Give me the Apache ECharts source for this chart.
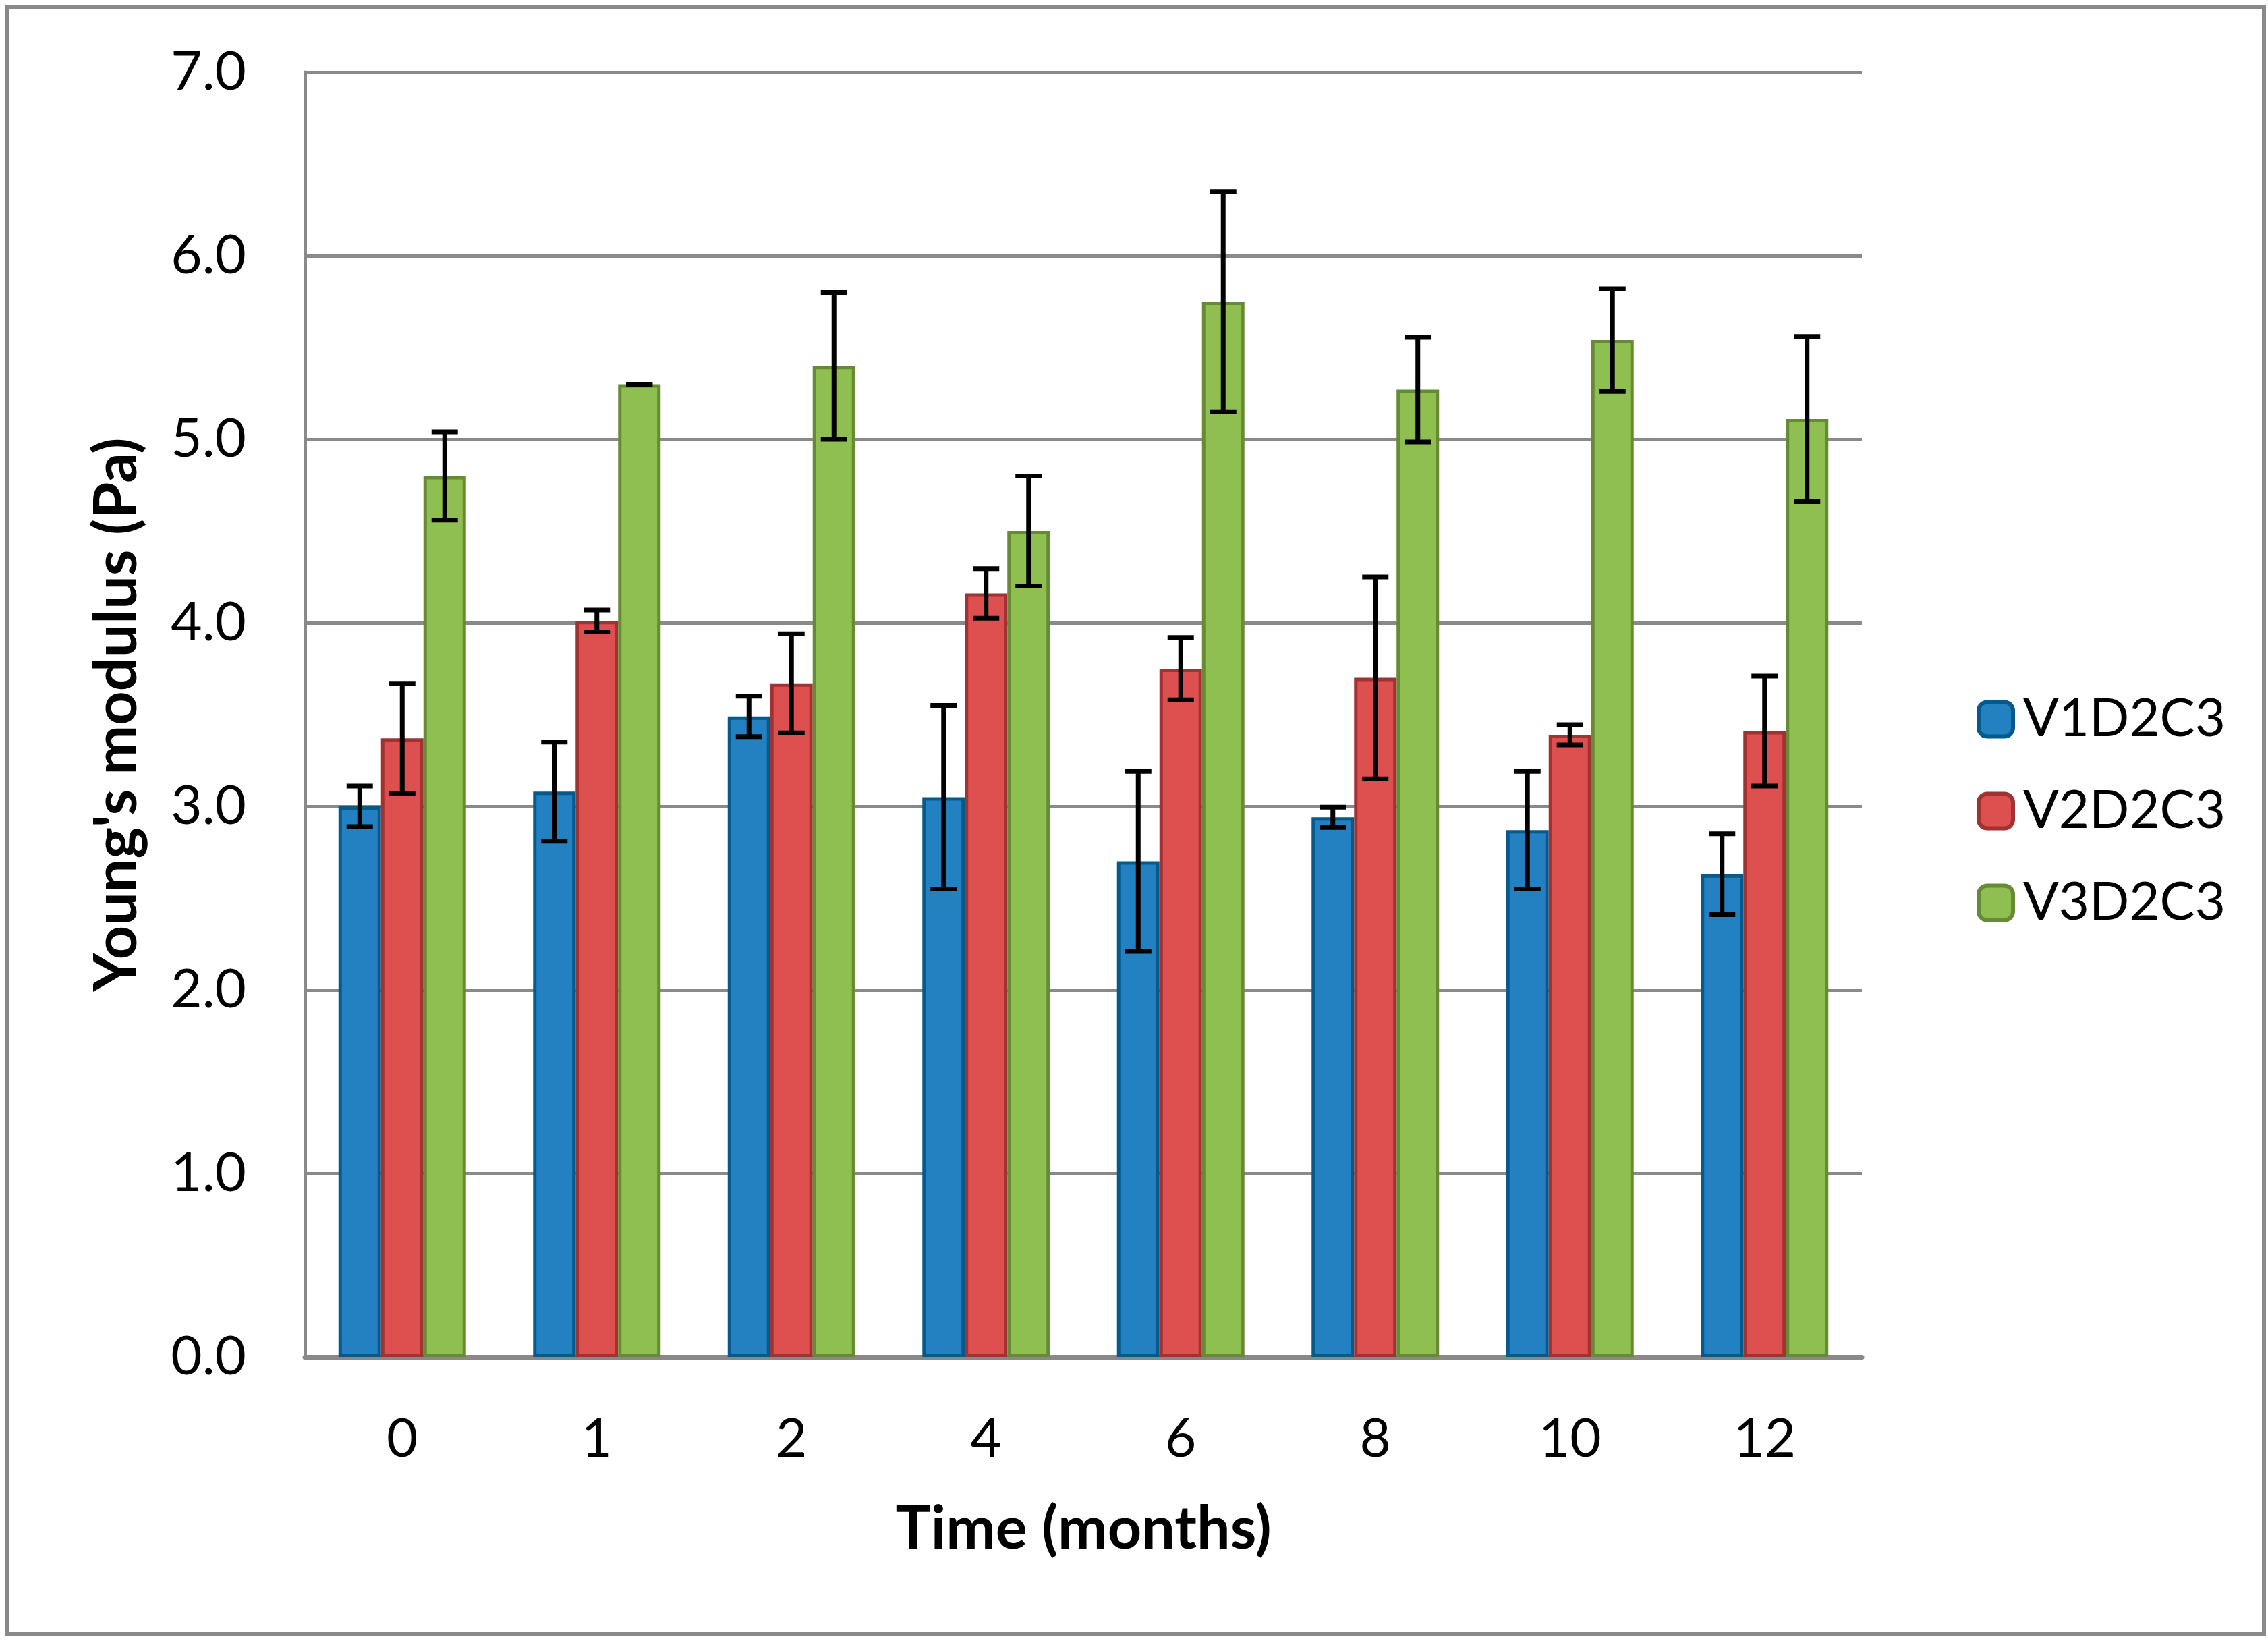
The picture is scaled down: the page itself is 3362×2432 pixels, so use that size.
<!DOCTYPE html>
<html>
<head>
<meta charset="utf-8">
<script src="https://cdn.jsdelivr.net/npm/echarts@6/dist/echarts.min.js"></script>
<style>
html,body{margin:0;padding:0;background:#fff;}
#chart{width:3362px;height:2432px;}
</style>
</head>
<body>
<div id="chart"></div>
<script>
// ---- data ----
const categories = ['0', '1', '2', '4', '6', '8', '10', '12'];
const seriesNames = ['V1D2C3', 'V2D2C3', 'V3D2C3'];
const v1Mean = [3.00, 3.08, 3.49, 3.05, 2.70, 2.94, 2.87, 2.63];
const v1Err  = [0.11, 0.27, 0.11, 0.50, 0.49, 0.055, 0.32, 0.22];
const v2Mean = [3.37, 4.01, 3.67, 4.16, 3.75, 3.70, 3.39, 3.41];
const v2Err  = [0.30, 0.06, 0.27, 0.135, 0.17, 0.55, 0.055, 0.30];
const v3Mean = [4.80, 5.30, 5.40, 4.50, 5.75, 5.27, 5.54, 5.11];
const v3Err  = [0.24, 0.00, 0.40, 0.30, 0.60, 0.285, 0.28, 0.45];
const yTicks = [0, 1, 2, 3, 4, 5, 6, 7];

// ---- styles ----
const fills = ['#2481c1', '#de4f4f', '#8fbe51'];
const borders = ['#055a8b', '#a03232', '#678a34'];
const FONT = 'Lato';
const GAP = 0.345;

const means = [v1Mean, v2Mean, v3Mean];
const errs = [v1Err, v2Err, v3Err];

const chart = echarts.init(document.getElementById('chart'), null, {renderer: 'canvas'});

const barSeries = seriesNames.map((name, i) => ({
  name: name,
  type: 'bar',
  data: means[i],
  barGap: '0%',
  barCategoryGap: (GAP * 100) + '%',
  itemStyle: {color: fills[i], borderColor: borders[i], borderWidth: 5},
  emphasis: {disabled: true},
  z: 2
}));

const errSeries = seriesNames.map((name, i) => ({
  type: 'custom',
  name: name + ' err',
  z: 10,
  silent: true,
  data: means[i].map((m, k) => [k, m - errs[i][k], m + errs[i][k]]),
  renderItem: function (params, api) {
    const k = api.value(0);
    const lo = api.value(1), hi = api.value(2);
    const pHi = api.coord([k, hi]);
    const pLo = api.coord([k, lo]);
    const catW = api.size([1, 0])[0];
    const bw = catW * (1 - GAP) / 3;
    const cx = pHi[0] + (i - 1) * bw;
    const half = 19.5;
    const style = {stroke: '#000', lineWidth: 7};
    return {
      type: 'group',
      children: [
        {type: 'line', shape: {x1: cx, y1: pHi[1], x2: cx, y2: pLo[1]}, style: style},
        {type: 'line', shape: {x1: cx - half, y1: pHi[1], x2: cx + half, y2: pHi[1]}, style: style},
        {type: 'line', shape: {x1: cx - half, y1: pLo[1], x2: cx + half, y2: pLo[1]}, style: style}
      ]
    };
  }
}));

const option = {
  backgroundColor: '#fff',
  animation: false,
  textStyle: {fontFamily: FONT, color: '#000'},
  graphic: [{
    type: 'rect',
    shape: {x: 10, y: 10, width: 3346, height: 2412},
    style: {fill: 'none', stroke: '#898989', lineWidth: 6},
    silent: true,
    z: 100
  }],
  grid: {left: 452, right: 602, top: 107, bottom: 421, containLabel: false},
  legend: {
    orient: 'vertical',
    left: 2925,
    top: 1022,
    itemWidth: 51,
    itemHeight: 51,
    itemGap: 58,
    icon: 'roundRect',
    selectedMode: false,
    data: seriesNames.map((n, i) => ({
      name: n,
      itemStyle: {color: fills[i], borderColor: borders[i], borderWidth: 6}
    })),
    textStyle: {fontFamily: FONT, fontSize: 78, color: '#000', padding: [0, 0, 0, 10]}
  },
  xAxis: {
    type: 'category',
    data: categories,
    name: 'Time (months)',
    nameLocation: 'middle',
    nameGap: 212,
    nameTextStyle: {fontFamily: FONT, fontSize: 88, fontWeight: 'bold', color: '#000', lineHeight: 88},
    axisLine: {show: true, lineStyle: {color: '#898989', width: 7}},
    axisTick: {show: false},
    axisLabel: {fontFamily: FONT, fontSize: 80, color: '#000', margin: 82, lineHeight: 80},
    splitLine: {show: false}
  },
  yAxis: {
    type: 'value',
    min: yTicks[0],
    max: yTicks[yTicks.length - 1],
    interval: 1,
    name: "Young's modulus (Pa)",
    nameLocation: 'middle',
    nameGap: 234,
    nameRotate: 90,
    nameTextStyle: {fontFamily: FONT, fontSize: 88, fontWeight: 'bold', color: '#000', lineHeight: 88},
    axisLine: {show: true, lineStyle: {color: '#898989', width: 5}},
    axisTick: {show: false},
    axisLabel: {fontFamily: FONT, fontSize: 80, color: '#000', margin: 87, formatter: v => v.toFixed(1)},
    splitLine: {show: true, lineStyle: {color: '#898989', width: 5}}
  },
  series: barSeries.concat(errSeries)
};

chart.setOption(option);
</script>
</body>
</html>
